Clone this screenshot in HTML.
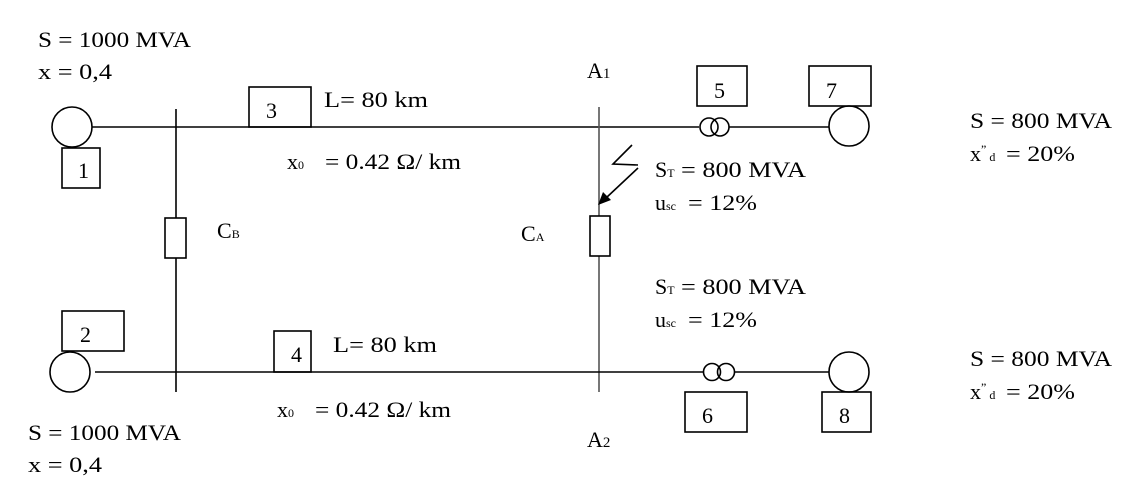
<!DOCTYPE html>
<html><head><style>
body{margin:0;background:#fff;}
svg{display:block;}
text{font-family:"Liberation Serif",serif;font-size:22px;fill:#000;}
.s{font-size:12px;}
</style></head><body>
<svg width="1144" height="501" viewBox="0 0 1144 501" xmlns="http://www.w3.org/2000/svg">
<g fill="none" stroke="#000" stroke-width="1.6">
<line x1="92" y1="127" x2="699" y2="127"/>
<line x1="729" y1="127" x2="829" y2="127"/>
<circle cx="72" cy="127" r="20"/>
<rect x="62" y="148" width="38" height="40"/>
<rect x="249" y="87" width="62" height="40"/>
<circle cx="709" cy="127" r="9"/>
<circle cx="720" cy="127" r="9"/>
<rect x="697" y="66" width="50" height="40"/>
<rect x="809" y="66" width="62" height="40"/>
<circle cx="849" cy="126" r="20"/>
<line x1="176" y1="109" x2="176" y2="392"/>
<rect x="165" y="218" width="21" height="40" fill="#fff"/>
<line x1="599" y1="107" x2="599" y2="392" stroke="#555"/>
<rect x="590" y="216" width="20" height="40" fill="#fff"/>
<line x1="95" y1="372" x2="704" y2="372"/>
<line x1="735" y1="372" x2="829" y2="372"/>
<circle cx="70" cy="372" r="20"/>
<rect x="62" y="311" width="62" height="40"/>
<rect x="274" y="331" width="37" height="41"/>
<circle cx="712" cy="372" r="8.5"/>
<circle cx="726" cy="372" r="8.5"/>
<rect x="685" y="392" width="62" height="40"/>
<circle cx="849" cy="372" r="20"/>
<rect x="822" y="392" width="49" height="40"/>
<polyline points="632,145 613,164 638,165"/>
<line x1="638" y1="168" x2="606" y2="198"/>
</g>
<polygon points="598,205 603,192 611,200" fill="#000"/>
<text x="38" y="47" textLength="153" lengthAdjust="spacingAndGlyphs">S = 1000 MVA</text>
<text x="38" y="79" textLength="74" lengthAdjust="spacingAndGlyphs">x = 0,4</text>
<text x="78" y="178">1</text>
<text x="266" y="118">3</text>
<text x="324" y="107" textLength="104" lengthAdjust="spacingAndGlyphs">L= 80 km</text>
<text x="287" y="169">x<tspan class="s">0</tspan></text>
<text x="325" y="169" textLength="136" lengthAdjust="spacingAndGlyphs">= 0.42 Ω/ km</text>
<text x="217" y="238">C<tspan class="s">B</tspan></text>
<text x="521" y="241">C<tspan class="s">A</tspan></text>
<text x="587" y="78">A<tspan style="font-size:15px">1</tspan></text>
<text x="714" y="98">5</text>
<text x="826" y="98">7</text>
<text x="655" y="177">S<tspan class="s">T</tspan></text>
<text x="681" y="177" textLength="125" lengthAdjust="spacingAndGlyphs">= 800 MVA</text>
<text x="655" y="210">u<tspan class="s">sc</tspan></text>
<text x="688" y="210" textLength="69" lengthAdjust="spacingAndGlyphs">= 12%</text>
<text x="655" y="294">S<tspan class="s">T</tspan></text>
<text x="681" y="294" textLength="125" lengthAdjust="spacingAndGlyphs">= 800 MVA</text>
<text x="655" y="327">u<tspan class="s">sc</tspan></text>
<text x="688" y="327" textLength="69" lengthAdjust="spacingAndGlyphs">= 12%</text>
<text x="970" y="128" textLength="142" lengthAdjust="spacingAndGlyphs">S = 800 MVA</text>
<text x="970" y="161">x<tspan class="s" dy="-8">”</tspan><tspan class="s" dy="8"> d</tspan></text>
<text x="1006" y="161" textLength="69" lengthAdjust="spacingAndGlyphs">= 20%</text>
<text x="970" y="366" textLength="142" lengthAdjust="spacingAndGlyphs">S = 800 MVA</text>
<text x="970" y="399">x<tspan class="s" dy="-8">”</tspan><tspan class="s" dy="8"> d</tspan></text>
<text x="1006" y="399" textLength="69" lengthAdjust="spacingAndGlyphs">= 20%</text>
<text x="80" y="342">2</text>
<text x="291" y="362">4</text>
<text x="333" y="352" textLength="104" lengthAdjust="spacingAndGlyphs">L= 80 km</text>
<text x="277" y="417">x<tspan class="s">0</tspan></text>
<text x="315" y="417" textLength="136" lengthAdjust="spacingAndGlyphs">= 0.42 Ω/ km</text>
<text x="702" y="423">6</text>
<text x="839" y="423">8</text>
<text x="587" y="447">A<tspan style="font-size:15px">2</tspan></text>
<text x="28" y="440" textLength="153" lengthAdjust="spacingAndGlyphs">S = 1000 MVA</text>
<text x="28" y="472" textLength="74" lengthAdjust="spacingAndGlyphs">x = 0,4</text>
</svg>
</body></html>
